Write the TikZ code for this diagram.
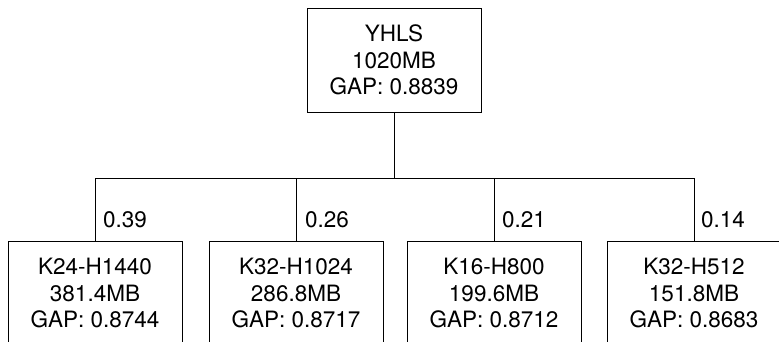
\documentclass[tikz,border=0pt]{standalone}
\usepackage{fontspec}
\setmainfont{TeX Gyre Heros}
\begin{document}
\begin{tikzpicture}[x=1bp,y=-1bp,
  box/.style={draw,line width=0.9bp,minimum width=174bp,minimum height=104bp,inner sep=0pt,align=center,
    font=\fontsize{22.5bp}{26.5bp}\selectfont},
  wire/.style={line width=0.9bp},
  prob/.style={anchor=west,inner sep=0pt,font=\fontsize{22.5bp}{26.5bp}\selectfont}]
\useasboundingbox (0,0) rectangle (779,341);
\node[box] (root) at (394,60) {YHLS\\1020MB\\GAP: 0.8839};
\node[box] (c1) at (95,293) {K24-H1440\\381.4MB\\GAP: 0.8744};
\node[box] (c2) at (296,293) {K32-H1024\\286.8MB\\GAP: 0.8717};
\node[box] (c3) at (494,293) {K16-H800\\199.6MB\\GAP: 0.8712};
\node[box] (c4) at (694,293) {K32-H512\\151.8MB\\GAP: 0.8683};
\coordinate (bus) at (394,178);
\draw[wire] (root.south) -- (bus);
\draw[wire] (bus) -| (c1.north);
\draw[wire] (bus) -| (c2.north);
\draw[wire] (bus) -| (c3.north);
\draw[wire] (bus) -| (c4.north);
\node[prob] (p1) at (103,220) {0.39};
\node[prob] (p2) at (305,220) {0.26};
\node[prob] (p3) at (502,220) {0.21};
\node[prob] (p4) at (701,220) {0.14};
\end{tikzpicture}
\end{document}
